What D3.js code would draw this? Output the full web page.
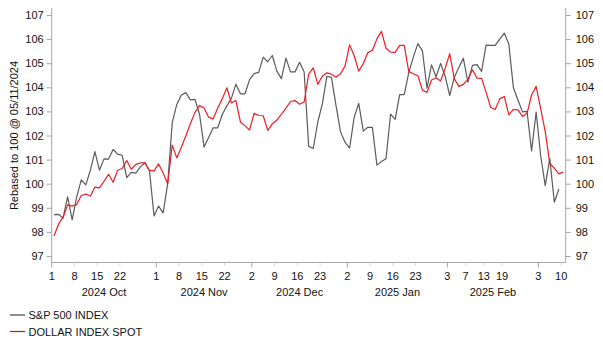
<!DOCTYPE html>
<html>
<head>
<meta charset="utf-8">
<script src="https://cdn.jsdelivr.net/npm/d3@7"></script>
<style>
  body { margin: 0; background: #fff; }
  text { font-family: "Liberation Sans", Arial, sans-serif; }
</style>
</head>
<body>
<svg id="chart" width="603" height="352"></svg>
<script>
// axis days: every weekday from start to end, minus days with no FX quote
const startDay = '2024-10-01';
const endDay = '2025-03-10';
const closedDays = ['2024-12-25', '2025-01-01'];

// S&P 500, rebased to 100 on 05/11/2024 (ends 7 Mar, US holidays carried forward)
const spx = [
  98.72, 98.73, 98.57, 99.45, 98.50, 99.45, 100.16, 99.95, 100.56, 101.33,
  100.56, 101.03, 101.02, 101.42, 101.23, 101.18, 100.25, 100.47, 100.44, 100.70,
  100.87, 100.53, 98.66, 99.07, 98.79, 100.00, 102.53, 103.29, 103.68, 103.78,
  103.48, 103.50, 102.88, 101.52, 101.92, 102.32, 102.32, 102.87, 103.23, 103.54,
  104.13, 103.73, 103.73, 104.32, 104.57, 104.62, 105.25, 105.06, 105.32, 104.67,
  104.36, 105.21, 104.64, 104.64, 105.04, 104.63, 101.55, 101.46, 102.56, 103.31,
  104.45, 104.41, 103.25, 102.15, 101.71, 101.48, 102.76, 103.33, 102.18, 102.34,
  102.34, 100.77, 100.92, 101.04, 102.89, 102.67, 103.70, 103.70, 104.61, 105.25,
  105.81, 105.51, 103.97, 104.93, 104.44, 104.99, 104.46, 103.66, 104.41, 104.82,
  105.20, 104.21, 104.91, 104.94, 104.66, 105.75, 105.74, 105.74, 106.00, 106.25,
  105.79, 103.98, 103.47, 102.98, 103.00, 101.36, 102.97, 101.16, 99.92, 101.04,
  99.23, 99.78
];

// Dollar index spot, rebased to 100 on 05/11/2024
const dxy = [
  97.83, 98.32, 98.61, 99.12, 99.07, 99.14, 99.51, 99.57, 99.48, 99.86,
  99.83, 100.10, 100.39, 100.06, 100.56, 100.63, 100.96, 100.60, 100.80, 100.86,
  100.87, 100.55, 100.53, 100.82, 100.44, 100.00, 101.60, 101.07, 101.51, 101.99,
  102.50, 102.96, 103.24, 103.14, 102.76, 102.69, 103.14, 103.52, 103.98, 103.35,
  103.45, 102.56, 102.40, 102.23, 102.92, 102.83, 102.82, 102.21, 102.48, 102.64,
  102.88, 103.14, 103.41, 103.45, 103.30, 103.39, 104.55, 104.81, 104.12, 104.46,
  104.60, 104.54, 104.42, 104.56, 104.89, 105.76, 105.31, 104.67, 104.98, 105.44,
  105.54, 106.01, 106.32, 105.62, 105.46, 105.45, 105.74, 105.74, 104.65, 104.56,
  104.48, 103.88, 103.79, 104.30, 104.40, 104.26, 104.78, 105.40, 104.36, 104.04,
  104.12, 104.33, 104.73, 104.38, 104.37, 103.80, 103.17, 103.08, 103.52, 103.62,
  102.86, 103.08, 103.06, 102.79, 102.92, 103.68, 104.04, 103.12, 102.16, 100.84,
  100.64, 100.41, 100.48
];

const dayTicks = [
  '2024-10-01', '2024-10-08', '2024-10-15', '2024-10-22',
  '2024-11-01', '2024-11-08', '2024-11-15', '2024-11-22',
  '2024-12-02', '2024-12-09', '2024-12-16', '2024-12-23',
  '2025-01-02', '2025-01-09', '2025-01-16', '2025-01-23',
  '2025-02-03', '2025-02-07', '2025-02-13', '2025-02-19',
  '2025-03-03', '2025-03-10'
];
const monthStarts = ['2024-10-01', '2024-11-01', '2024-12-02', '2025-01-02', '2025-02-03', '2025-03-03'];
const monthLabels = ['2024 Oct', '2024 Nov', '2024 Dec', '2025 Jan', '2025 Feb'];
const yTicks = [97, 98, 99, 100, 101, 102, 103, 104, 105, 106, 107];

const seriesNames = ['S&P 500 INDEX', 'DOLLAR INDEX SPOT'];
const seriesColors = ['#5b5b5b', '#ee1c25'];

const fmt = d3.timeFormat('%Y-%m-%d');
const parse = d3.timeParse('%Y-%m-%d');

const days = d3.timeDay.range(parse(startDay), d3.timeDay.offset(parse(endDay), 1))
  .filter(d => d.getDay() !== 0 && d.getDay() !== 6)
  .map(fmt)
  .filter(d => !closedDays.includes(d));

const left = 51.7, right = 565.7, axisY = 262.5, frameTop = 8;

const x = d3.scaleBand()
  .domain(days)
  .range([left, right])
  .padding(0);
const half = x.bandwidth() / 2;

const y = d3.scaleLinear()
  .domain([97, 107])
  .range([256, 15]);

const svg = d3.select('#chart');
const axisColor = '#a6a6a6';

// y axes
const yl = svg.append('g')
  .attr('transform', `translate(${left},0)`)
  .call(d3.axisLeft(y).tickValues(yTicks).tickSize(5).tickPadding(3));
const yr = svg.append('g')
  .attr('transform', `translate(${right},0)`)
  .call(d3.axisRight(y).tickValues(yTicks).tickSize(5).tickPadding(5));

[yl, yr].forEach(g => {
  g.select('.domain').remove();
  g.selectAll('.tick line').attr('stroke', axisColor);
  g.selectAll('.tick text').attr('fill', '#111').style('font-size', '11px');
  g.append('line')
    .attr('y1', frameTop).attr('y2', axisY)
    .attr('stroke', axisColor);
});

svg.append('text')
  .attr('transform', `translate(18,${(15 + 256) / 2}) rotate(-90)`)
  .attr('text-anchor', 'middle')
  .attr('fill', '#111')
  .style('font-size', '11px')
  .text('Rebased to 100 @ 05/11/2024');

// x axis
const gx = svg.append('g');
gx.append('line')
  .attr('x1', left).attr('x2', right)
  .attr('y1', axisY).attr('y2', axisY)
  .attr('stroke', axisColor);

gx.selectAll('.minor')
  .data(dayTicks.filter(d => !monthStarts.includes(d)))
  .enter().append('line')
    .attr('class', 'minor')
    .attr('x1', d => x(d)).attr('x2', d => x(d))
    .attr('y1', axisY).attr('y2', axisY + 3)
    .attr('stroke', '#cfcfcf');

gx.selectAll('.major')
  .data(monthStarts)
  .enter().append('line')
    .attr('class', 'major')
    .attr('x1', d => x(d)).attr('x2', d => x(d))
    .attr('y1', axisY).attr('y2', axisY + 5)
    .attr('stroke', axisColor);

gx.selectAll('.day')
  .data(dayTicks)
  .enter().append('text')
    .attr('class', 'day')
    .attr('x', d => x(d))
    .attr('y', 280)
    .attr('text-anchor', 'middle')
    .attr('fill', '#111')
    .style('font-size', '11px')
    .text(d => +d.slice(8));

gx.selectAll('.month')
  .data(monthLabels)
  .enter().append('text')
    .attr('class', 'month')
    .attr('x', (d, i) => (x(monthStarts[i]) + x(monthStarts[i + 1])) / 2)
    .attr('y', 296)
    .attr('text-anchor', 'middle')
    .attr('fill', '#111')
    .style('font-size', '11px')
    .text(d => d);

// lines
const line = d3.line()
  .x((d, i) => x(days[i]) + half)
  .y(d => y(d));

[spx, dxy].forEach((s, k) => {
  svg.append('path')
    .datum(s)
    .attr('fill', 'none')
    .attr('stroke', seriesColors[k])
    .attr('stroke-width', 1.2)
    .attr('stroke-linejoin', 'round')
    .attr('d', line);
});

// legend
const lg = svg.selectAll('.legend')
  .data(seriesNames)
  .enter().append('g')
    .attr('class', 'legend')
    .attr('transform', (d, i) => `translate(10,${315 + i * 16.5})`);
lg.append('line')
  .attr('x1', 0).attr('x2', 15)
  .attr('stroke', (d, i) => i ? '#c4161c' : '#444')
  .attr('stroke-width', 1.2);
lg.append('text')
  .attr('x', 18.5).attr('y', 4)
  .attr('fill', '#111')
  .style('font-size', '11px')
  .text(d => d);
</script>
</body>
</html>
